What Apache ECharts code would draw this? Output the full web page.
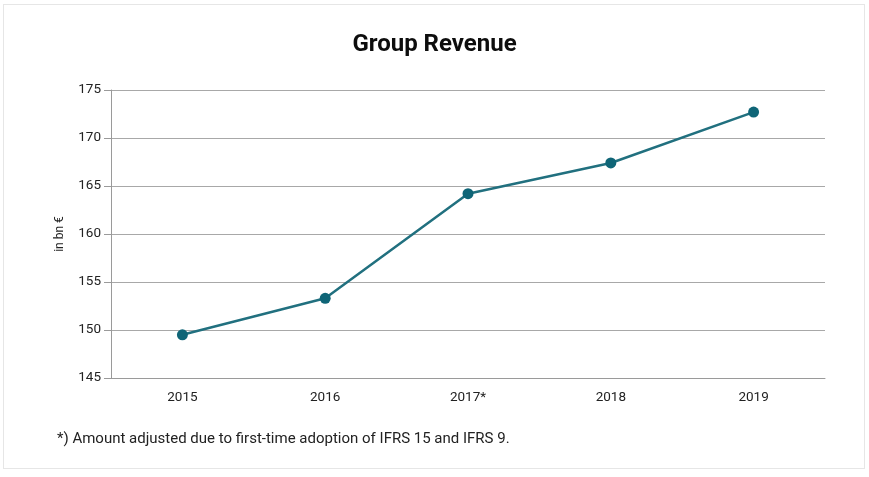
<!DOCTYPE html>
<html>
<head>
<meta charset="utf-8">
<script src="https://cdn.jsdelivr.net/npm/echarts@6/dist/echarts.min.js"></script>
<style>
  html, body { margin: 0; padding: 0; background: #fff; }
  #frame { position: absolute; left: 3px; top: 4px; width: 862px; height: 465px; border: 1px solid #e6e6e6; box-sizing: border-box; }
  #chart { position: absolute; left: 0; top: 0; width: 869px; height: 477px; }
</style>
</head>
<body>
<div id="frame"></div>
<div id="chart"></div>
<script>
// Group revenue, in bn €
const years = ['2015', '2016', '2017*', '2018', '2019'];
const revenue = [149.5, 153.3, 164.2, 167.4, 172.7];
const yTicks = [145, 150, 155, 160, 165, 170, 175];

const chart = echarts.init(document.getElementById('chart'), null, { renderer: 'canvas' });
const font = 'Roboto, "Liberation Sans", Arial, sans-serif';

chart.setOption({
  animation: false,
  title: {
    text: 'Group Revenue',
    left: 'center',
    top: 28,
    textStyle: { fontFamily: font, fontWeight: 'bold', fontSize: 24, color: '#0d0d0d' }
  },
  grid: { left: 111, right: 44, top: 90, bottom: 99 },
  xAxis: {
    type: 'category',
    data: years,
    boundaryGap: true,
    axisLine: { lineStyle: { color: '#9a9a9a', width: 1 } },
    axisTick: { show: false },
    axisLabel: { fontFamily: font, fontSize: 13.5, color: '#222', margin: 13 }
  },
  yAxis: {
    type: 'value',
    name: 'in bn €',
    nameLocation: 'middle',
    nameGap: 45,
    nameRotate: 90,
    nameTextStyle: { fontFamily: font, fontSize: 12, color: '#222' },
    min: yTicks[0],
    max: yTicks[yTicks.length - 1],
    interval: 5,
    axisLine: { show: true, lineStyle: { color: '#9a9a9a', width: 1 } },
    axisTick: { show: true, length: 7, lineStyle: { color: '#9a9a9a' } },
    axisLabel: { fontFamily: font, fontSize: 13.5, color: '#222', margin: 10 },
    splitLine: { lineStyle: { color: '#a8a8a8', width: 1 } }
  },
  graphic: [{
    type: 'text',
    left: 57,
    top: 432,
    style: {
      text: '*) Amount adjusted due to first-time adoption of IFRS 15 and IFRS 9.',
      font: '15px ' + font,
      fill: '#222'
    }
  }],
  series: [{
    type: 'line',
    data: revenue,
    symbol: 'circle',
    symbolSize: 11,
    lineStyle: { color: '#21707f', width: 2.5 },
    itemStyle: { color: '#0f6577' }
  }]
});
</script>
</body>
</html>
